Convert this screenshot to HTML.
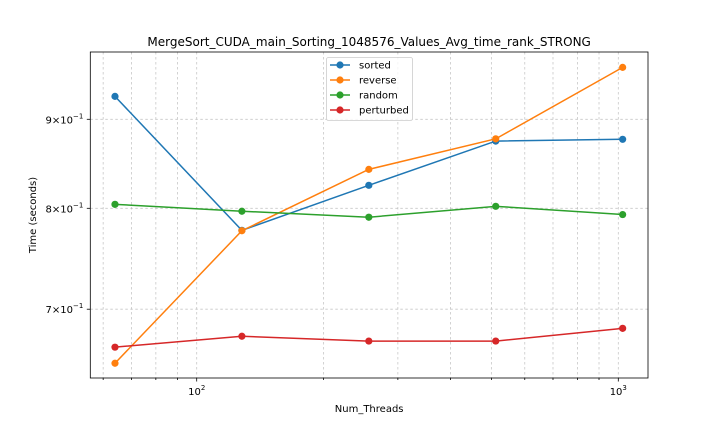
<!DOCTYPE html>
<html><head><meta charset="utf-8"><style>
body{margin:0;background:#fff;font-family:"Liberation Sans","DejaVu Sans",sans-serif;}
svg text{font-family:"DejaVu Sans","Liberation Sans",sans-serif;fill:#000}
</style></head><body>
<svg id="chart" width="720" height="432" viewBox="0 0 720 432" xmlns="http://www.w3.org/2000/svg">
<rect width="720" height="432" fill="#fff"/>
<g id="grid"></g><g id="series"></g><g id="axes"></g>
</svg>
<script>
const threads = [64, 128, 256, 512, 1024];
const sortedVals = [0.9277, 0.7770, 0.8247, 0.8744, 0.8765];
const reverseVals = [0.6517, 0.7766, 0.8423, 0.8770, 0.9640];
const randomVals = [0.8042, 0.7969, 0.7906, 0.8021, 0.7934];
const perturbedVals = [0.6657, 0.6754, 0.6711, 0.6711, 0.6825];
const seriesNames = ["sorted", "reverse", "random", "perturbed"];
const seriesColors = ["#1f77b4", "#ff7f0e", "#2ca02c", "#d62728"];
const yTickVals = [0.9, 0.8, 0.7];
const yTickLabels = ["9", "8", "7"];

const L=90.3,R=648,T=52,B=378;
const xPx100=196.7,xDec=421.6;
const yRef=208.3,yDec=1740;
const X=v=>xPx100+(Math.log10(v)-2)*xDec;
const Y=v=>yRef-(Math.log10(v)-Math.log10(0.8))*yDec;
const NS="http://www.w3.org/2000/svg";
function mk(tag,attrs,parent){const e=document.createElementNS(NS,tag);for(const k in attrs)e.setAttribute(k,attrs[k]);parent.appendChild(e);return e;}
const grid=document.getElementById('grid'),ser=document.getElementById('series'),ax=document.getElementById('axes');

// x grid (major + minor)
const xt=[];for(let d=10;d<=1000;d*=10)for(let m=1;m<10;m++)xt.push(m*d);
xt.forEach(v=>{const x=X(v);if(x<L||x>R)return;const major=(v===100||v===1000);
 const g=mk('line',{x1:x,x2:x,y1:T,y2:B,stroke:'#b0b0b0','stroke-width':0.8,'stroke-dasharray':'2.5,2.5',opacity:0.7},grid);
 
 const t=mk('line',{x1:x,x2:x,y1:B,y2:B+(major?3.5:2),stroke:'#000','stroke-width':0.8},ax);
 
 if(major){const lb=mk('text',{x:x,y:B+17,'font-size':10,'text-anchor':'middle'},ax);
  
  lb.innerHTML='10<tspan font-size="7" dy="-5">'+(v===100?'2':'3')+'</tspan>';}
});
yTickVals.forEach((v,i)=>{const y=Y(v);
 const g=mk('line',{x1:L,x2:R,y1:y,y2:y,stroke:'#b0b0b0','stroke-width':0.8,'stroke-dasharray':'2.5,2.5',opacity:0.7},grid);
 
 const t=mk('line',{x1:L-3.5,x2:L,y1:y,y2:y,stroke:'#000','stroke-width':0.8},ax);
 
 const lb=mk('text',{x:L-7,y:y+4,'font-size':10,'text-anchor':'end'},ax);
 
 lb.innerHTML=yTickLabels[i]+'\u00d710<tspan font-size="7" dy="-5">\u22121</tspan>';
});
const allVals=[sortedVals,reverseVals,randomVals,perturbedVals];
allVals.forEach((vals,si)=>{
 const pts=vals.map((v,i)=>X(threads[i])+','+Y(v)).join(' ');
 const pl=mk('polyline',{points:pts,fill:'none',stroke:seriesColors[si],'stroke-width':1.5},ser);
 
 vals.forEach((v,i)=>{const c=mk('circle',{cx:X(threads[i]),cy:Y(v),r:3.6,fill:seriesColors[si]},ser);
  });
});
const frame=mk('rect',{x:L,y:T,width:R-L,height:B-T,fill:'none',stroke:'#000','stroke-width':0.8},ax);

const title=mk('text',{x:(L+R)/2,y:46,'font-size':12,'text-anchor':'middle'},ax);

title.textContent='MergeSort_CUDA_main_Sorting_1048576_Values_Avg_time_rank_STRONG';
const xl=mk('text',{x:(L+R)/2,y:412,'font-size':10,'text-anchor':'middle'},ax);

xl.textContent='Num_Threads';
const yl=mk('text',{x:36,y:(T+B)/2,'font-size':10,'text-anchor':'middle',transform:'rotate(-90 36 '+((T+B)/2)+')'},ax);

yl.textContent='Time (seconds)';
// legend
const lg=mk('g',{},ax);

mk('rect',{x:326.5,y:57.5,width:86,height:63,rx:2,fill:'#fff','fill-opacity':0.8,stroke:'#ccc','stroke-width':0.8},lg);
seriesNames.forEach((n,i)=>{const y=65+i*15;
 const e=mk('g',{},lg);
 mk('line',{x1:330,x2:350,y1:y,y2:y,stroke:seriesColors[i],'stroke-width':1.5},e);
 mk('circle',{cx:340,cy:y,r:3.6,fill:seriesColors[i]},e);
 const t=mk('text',{x:359,y:y+3.5,'font-size':10},e);t.textContent=n;});
</script>
</body></html>
